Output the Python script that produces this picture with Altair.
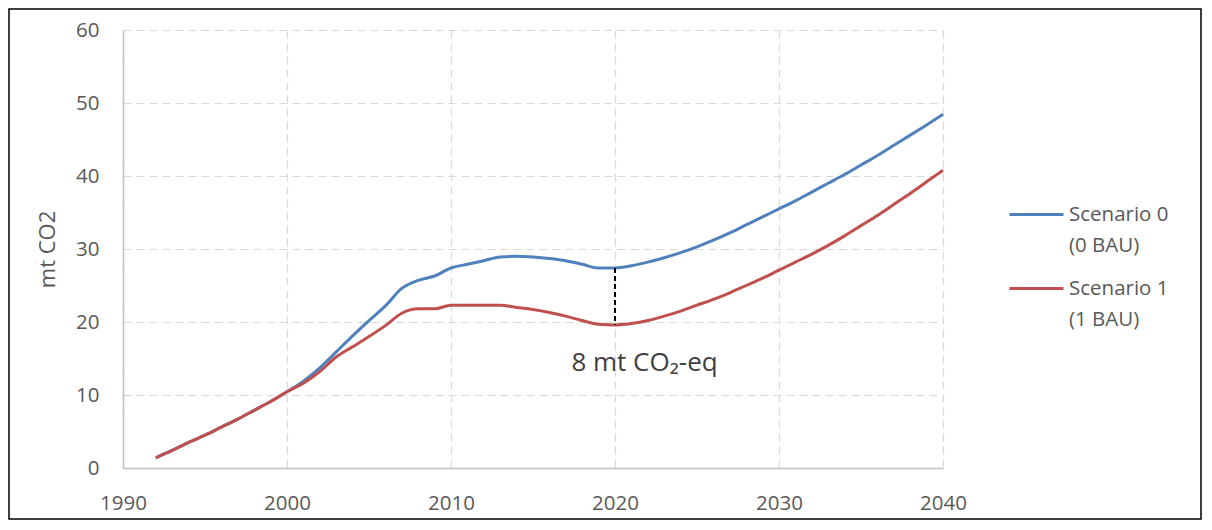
import altair as alt
import pandas as pd

years = list(range(1992, 2041))

scenario0 = [1.4, 2.4, 3.5, 4.5, 5.6, 6.7, 7.9, 9.1, 10.45,
             11.9, 13.7, 15.9, 18.1, 20.2, 22.2, 24.6, 25.7, 26.3, 27.4,
             27.9, 28.4, 28.9, 29.0, 28.9, 28.7, 28.4, 27.9, 27.4, 27.4,
             27.7, 28.2, 28.8, 29.5, 30.3, 31.2, 32.2, 33.3, 34.4, 35.5,
             36.6, 37.8, 39.0, 40.2, 41.5, 42.8, 44.2, 45.6, 47.0, 48.45]

scenario1 = [1.4, 2.4, 3.5, 4.5, 5.6, 6.7, 7.9, 9.1, 10.45,
             11.6, 13.2, 15.2, 16.6, 18.0, 19.5, 21.2, 21.8, 21.8, 22.3,
             22.3, 22.3, 22.3, 22.0, 21.7, 21.3, 20.8, 20.2, 19.7, 19.6,
             19.8, 20.2, 20.8, 21.5, 22.3, 23.1, 24.0, 25.0, 26.0, 27.1,
             28.2, 29.3, 30.5, 31.8, 33.2, 34.6, 36.1, 37.6, 39.2, 40.8]

series_names = ["Scenario 0|(0 BAU)", "Scenario 1|(1 BAU)"]
series_colors = ["#4F81BD", "#C0504D"]

x_ticks = [1990, 2000, 2010, 2020, 2030, 2040]
y_ticks = [0, 10, 20, 30, 40, 50, 60]

gap_year = [2020]
gap_top = [27.4]
gap_bottom = [19.6]

note_text = ["8 mt CO\u2082-eq"]
note_x = [2021.8]
note_y = [14.4]

W, H = 820, 438
PAD = {"left": 115, "top": 22, "right": 259, "bottom": 52}

rows = []
for yr, v in zip(years, scenario0):
    rows.append({"year": yr, "value": v, "series": series_names[0]})
for yr, v in zip(years, scenario1):
    rows.append({"year": yr, "value": v, "series": series_names[1]})
df = pd.DataFrame(rows)

x_scale = alt.Scale(domain=[1990, 2040], nice=False, zero=False)
y_scale = alt.Scale(domain=[0, 60], nice=False)

lines = alt.Chart(df).mark_line(strokeWidth=3, interpolate="monotone").encode(
    x=alt.X("year:Q", scale=x_scale,
            axis=alt.Axis(values=x_ticks, format="d", title=None, labelPadding=25,
                          labelFlush=False)),
    y=alt.Y("value:Q", scale=y_scale,
            axis=alt.Axis(values=y_ticks, title="mt CO2", labelPadding=24, titlePadding=16)),
    color=alt.Color("series:N",
                    scale=alt.Scale(domain=series_names, range=series_colors),
                    legend=alt.Legend(
                        title=None, orient="none", legendX=885, legendY=156,
                        labelExpr="split(datum.label, '|')",
                        symbolType="stroke", symbolSize=2916,
                        symbolStrokeWidth=3, labelOffset=4, rowPadding=4,
                        padding=0, labelFontSize=20.5, labelColor="#595959",
                        labelFont="Open Sans")),
)

gap_df = pd.DataFrame({"year": gap_year, "top": gap_top, "bottom": gap_bottom})
gap = alt.Chart(gap_df).mark_rule(color="black", strokeWidth=2, strokeDash=[5, 3]).encode(
    x=alt.X("year:Q", scale=x_scale),
    y=alt.Y("top:Q", scale=y_scale),
    y2="bottom:Q",
)

note_df = pd.DataFrame({"year": note_x, "value": note_y, "text": note_text})
note = alt.Chart(note_df).mark_text(
    font="Open Sans", fontSize=26, color="#404040", align="center", baseline="middle"
).encode(
    x=alt.X("year:Q", scale=x_scale),
    y=alt.Y("value:Q", scale=y_scale),
    text="text:N",
)

frame = alt.Chart(pd.DataFrame({"a": [0]})).mark_rect(
    filled=False, stroke="black", strokeWidth=1.5
).encode(
    x=alt.value(-PAD["left"] + 1),
    x2=alt.value(W + PAD["right"] - 1),
    y=alt.value(-PAD["top"] + 1),
    y2=alt.value(H + PAD["bottom"] - 1),
)

chart = alt.layer(frame, lines, gap, note).properties(
    width=W, height=H, padding=PAD,
    autosize=alt.AutoSizeParams(type="none"),
    background="white",
).configure(
    style={"guide-label": {"lineHeight": 31}}
).configure_view(
    stroke=None
).configure_axis(
    grid=True, gridColor="#D9D9D9", gridDash=[8, 5], gridWidth=1.2,
    domainColor="#BFBFBF", domainWidth=1.5, ticks=False, tickSize=0,
    labelFont="Open Sans", labelFontSize=20.5, labelColor="#595959",
    titleFont="Open Sans", titleFontSize=22, titleColor="#595959",
    titleFontWeight="normal",
)

chart.save("out.html", embed_options={"renderer": "svg", "actions": False})
